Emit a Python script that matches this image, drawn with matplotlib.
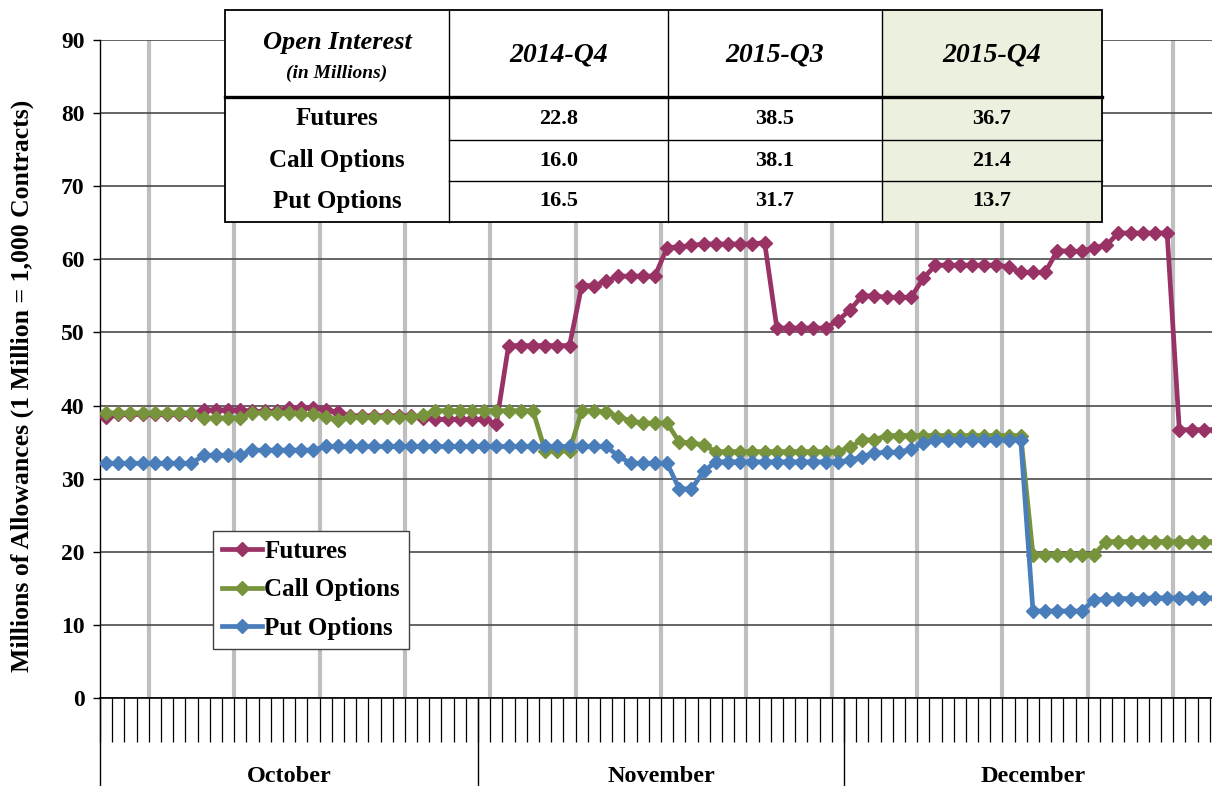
import matplotlib
matplotlib.use("Agg")
import matplotlib.pyplot as plt
import matplotlib.transforms as mtransforms
from matplotlib.patches import Rectangle
import numpy as np
import pandas as pd

# ---------------- data ----------------
dates = pd.date_range("2015-10-01", "2015-12-31", freq="D")
months = ["October", "November", "December"]

futures = ([38.5] + [38.8] * 7 + [39.4] * 4 + [39.2] * 3 + [39.7] * 3 + [39.4, 39.1]
           + [38.6] * 6 + [38.3] + [38.1] * 5 + [37.5]
           + [48.2] * 6 + [56.4] * 2 + [57.0] + [57.7] * 4 + [61.6, 61.7, 61.9]
           + [62.1] * 5 + [62.3] + [50.6] * 5 + [51.6, 53.1] + [55.0] * 2 + [54.8] * 3
           + [57.4] + [59.2] * 6 + [59.0] + [58.2] * 3 + [61.2] + [61.1] * 2 + [61.6, 61.9]
           + [63.6] * 5 + [36.7] * 4)

call_options = ([39.0] * 8 + [38.3] * 4 + [39.0] * 4 + [38.8] * 2 + [38.5, 38.0]
                + [38.4] * 6 + [38.7] + [39.3] * 9 + [33.8] * 3 + [39.3] * 2
                + [39.1, 38.5, 37.9] + [37.6] * 3 + [35.0, 34.9, 34.6] + [33.7] * 11
                + [34.3] + [35.3] * 2 + [35.9] * 12 + [19.6] * 6 + [21.4] * 10)

put_options = ([32.1] * 8 + [33.2] * 4 + [33.9] * 6 + [34.4] * 24 + [33.1] + [32.1] * 4
               + [28.6] * 2 + [31.0] + [32.3] * 11 + [32.5, 33.0, 33.5] + [33.6] * 2
               + [34.0, 34.9] + [35.3] * 8 + [11.9] * 5 + [13.4] + [13.6] * 4 + [13.7] * 6)

series_names = ["Futures", "Call Options", "Put Options"]
series_colors = ["#993366", "#77933C", "#4A7EBB"]

table_title = "Open Interest"
table_subtitle = "(in Millions)"
table_cols = ["2014-Q4", "2015-Q3", "2015-Q4"]
table_rows = ["Futures", "Call Options", "Put Options"]
table_values = [["22.8", "38.5", "36.7"],
                ["16.0", "38.1", "21.4"],
                ["16.5", "31.7", "13.7"]]

yticks = list(range(0, 91, 10))

# ---------------- figure ----------------
W, H = 1212, 786
fig = plt.figure(figsize=(W / 100, H / 100), dpi=100)
fig.patch.set_facecolor("white")
FONT = "Liberation Serif"
plt.rcParams["font.family"] = FONT

n = len(dates)
left_px, right_px, top_px, bot_px = 100, 1222, 40, 698
ax = fig.add_axes([left_px / W, 1 - bot_px / H, (right_px - left_px) / W, (bot_px - top_px) / H])
ax.set_facecolor("none")
ax.set_xlim(-0.5, n - 0.5)
ax.set_ylim(0, 90)

x = np.arange(n)

# vertical weekly grid lines (gray, thick)
for b in np.arange(3.5, n, 7):
    ax.axvline(b, color="#BFBFBF", lw=3.0, zorder=1)
# horizontal grid lines
for v in yticks:
    ax.axhline(v, color="#4A4A4A", lw=1.2, zorder=1.5)

zorders = [3, 4, 5]
for vals, name, col, z in zip([futures, call_options, put_options], series_names, series_colors, zorders):
    ax.plot(x, vals, color=col, lw=3.4, marker="D", ms=7.5, mec=col, mfc=col, label=name, zorder=z)

# y axis
ax.set_yticks(yticks)
ax.set_yticklabels([str(t) for t in yticks], fontsize=17, fontweight="bold", family=FONT)
ax.tick_params(axis="y", direction="out", length=5, width=1, pad=6)

# x axis: tick marks at day boundaries
ax.set_xticks(np.arange(-0.5, n, 1.0))
ax.set_xticklabels([])
ax.tick_params(axis="x", direction="out", length=32, width=0.9, color="black")

for s in ["top", "right"]:
    ax.spines[s].set_visible(False)
ax.spines["left"].set_color("black")
ax.spines["bottom"].set_color("black")
ax.spines["left"].set_linewidth(1.0)
ax.spines["bottom"].set_linewidth(1.2)

# month separators and labels
trans = mtransforms.blended_transform_factory(ax.transData, ax.transAxes)
month_idx = pd.Series(np.arange(n)).groupby(dates.month).agg(["min", "max"])
bounds = [-0.5]
for (_, row), name in zip(month_idx.iterrows(), months):
    lo, hi = row["min"] - 0.5, row["max"] + 0.5
    bounds.append(hi)
    ax.text((lo + hi) / 2, -0.119, name, transform=trans, ha="center", va="center",
            fontsize=17.5, fontweight="bold", family=FONT)
for b in bounds:
    ax.plot([b, b], [0, -0.14], transform=trans, color="black", lw=1.0, clip_on=False)

# y label
fig.text(22 / W, 1 - 386 / H, "Millions of Allowances (1 Million = 1,000 Contracts)",
         rotation=90, ha="center", va="center", fontsize=18.5, fontweight="bold", family=FONT)

# legend
leg = ax.legend(loc="upper left", bbox_to_anchor=(213 / W, 1 - 531 / H), bbox_transform=fig.transFigure,
                prop={"family": FONT, "weight": "bold", "size": 18}, frameon=True, fancybox=False,
                framealpha=1, edgecolor="#404040", handlelength=1.6, handletextpad=0.1,
                labelspacing=0.62, borderpad=0.35, borderaxespad=0)
leg.get_frame().set_linewidth(1.0)
leg.set_zorder(10)

# ---------------- table overlay ----------------
ov = fig.add_axes([0, 0, 1, 1], zorder=20)
ov.set_xlim(0, W)
ov.set_ylim(H, 0)
ov.axis("off")
ov.patch.set_alpha(0)

xe = [225, 449, 668, 882, 1102]
ye = [10, 97, 140, 181, 222]
ov.add_patch(Rectangle((xe[0], ye[0]), xe[-1] - xe[0], ye[-1] - ye[0], facecolor="white", edgecolor="none"))
ov.add_patch(Rectangle((xe[3], ye[0]), xe[4] - xe[3], ye[-1] - ye[0], facecolor="#EBF1DE", edgecolor="none"))
ov.add_patch(Rectangle((xe[0], ye[0]), xe[-1] - xe[0], ye[-1] - ye[0], facecolor="none", edgecolor="black", lw=1.3))
for xv in xe[1:-1]:
    ov.plot([xv, xv], [ye[0], ye[-1]], color="black", lw=1.0)
ov.plot([xe[0], xe[-1]], [ye[1], ye[1]], color="black", lw=2.4)
for yv in ye[2:-1]:
    ov.plot([xe[1], xe[-1]], [yv, yv], color="black", lw=1.0)

cx0 = (xe[0] + xe[1]) / 2
ov.text(cx0, 42, table_title, ha="center", va="center", fontsize=19, fontweight="bold",
        style="italic", family=FONT)
ov.text(cx0, 73, table_subtitle, ha="center", va="center", fontsize=14, fontweight="bold",
        style="italic", family=FONT)
for j, c in enumerate(table_cols):
    ov.text((xe[j + 1] + xe[j + 2]) / 2, 55, c, ha="center", va="center", fontsize=20,
            fontweight="bold", style="italic", family=FONT)
for i, r in enumerate(table_rows):
    yc = (ye[i + 1] + ye[i + 2]) / 2
    ov.text(cx0, yc, r, ha="center", va="center", fontsize=18, fontweight="bold", family=FONT)
    for j in range(3):
        ov.text((xe[j + 1] + xe[j + 2]) / 2, yc, table_values[i][j], ha="center", va="center",
                fontsize=16, fontweight="bold", family=FONT)

fig.savefig("out.png", dpi=100)
